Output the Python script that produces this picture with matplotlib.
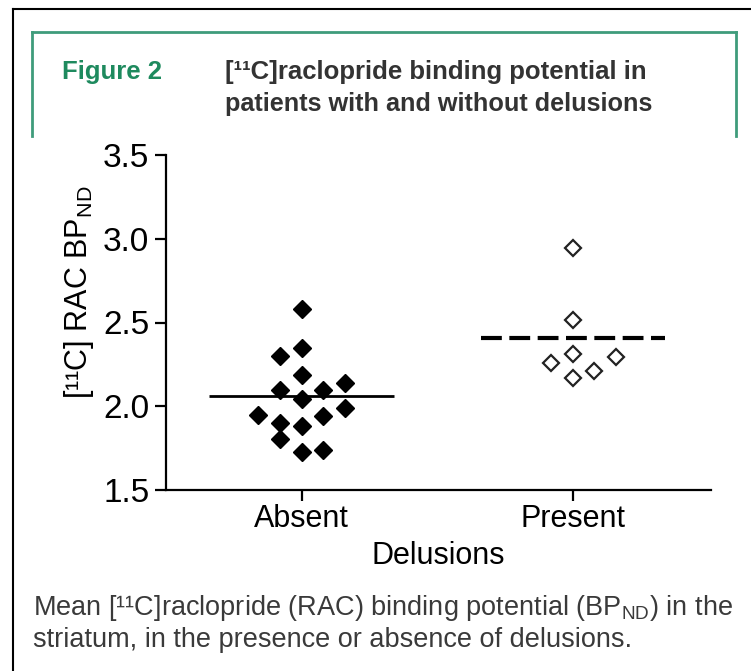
import matplotlib
matplotlib.use('Agg')
import matplotlib.pyplot as plt
from matplotlib.lines import Line2D

# ---------------- data ----------------
categories = ['Absent', 'Present']
absent_values = [2.578, 2.348, 2.299, 2.185, 2.136, 2.096, 2.096, 2.046,
                 1.992, 1.946, 1.940, 1.900, 1.882, 1.807, 1.727, 1.741]
absent_slots = [0, 0, -1, 0, 2, -1, 1, 0, 2, -2, 1, -1, 0, -1, 0, 1]
present_values = [2.946, 2.514, 2.311, 2.259, 2.295, 2.211, 2.171]
present_slots = [0, 0, 0, -1, 2, 1, 0]
absent_mean = 2.062
present_mean = 2.408
y_ticks = [1.5, 2.0, 2.5, 3.0, 3.5]
y_tick_labels = ['1.5', '2.0', '2.5', '3.0', '3.5']

# ---------------- style ----------------
plt.rcParams['mathtext.fontset'] = 'custom'
plt.rcParams['mathtext.rm'] = 'Liberation Sans'
plt.rcParams['mathtext.it'] = 'Liberation Sans:italic'
plt.rcParams['mathtext.bf'] = 'Liberation Sans:bold'

W, H = 751, 671
fig = plt.figure(figsize=(W / 100, H / 100), dpi=100)
fig.patch.set_facecolor('white')

def fx(px):
    return px / W

def fy(py):
    return 1 - py / H

AX_FONT = ['Liberation Sans', 'DejaVu Sans']
NARROW = ['Liberation Sans Narrow', 'Liberation Sans', 'DejaVu Sans']

ax = fig.add_axes([fx(166), fy(490), fx(711) - fx(166), fy(155) - fy(490)])

slot_w = 0.08
xa = [0 + s * slot_w for s in absent_slots]
xp = [1 + s * slot_w for s in present_slots]
ax.plot(xa, absent_values, ls='none', marker='D', ms=9.0,
        mfc='black', mec='black', mew=1.0, zorder=3)
ax.plot(xp, present_values, ls='none', marker='D', ms=8.6,
        mfc='white', mec='#222222', mew=1.6, zorder=3)

half = 0.34
ax.plot([0 - half, 0 + half], [absent_mean, absent_mean], color='black',
        lw=2.0, solid_capstyle='butt', zorder=2)
ax.plot([1 - half, 1 + half], [present_mean, present_mean], color='black',
        lw=3.0, ls=(0, (5.0, 1.8)), dash_capstyle='butt', zorder=2)

ax.set_xlim(-0.5, 1.51)
ax.set_ylim(1.5, 3.5)
ax.set_xticks([0, 1])
ax.set_xticklabels(categories, fontfamily=AX_FONT, fontsize=22)
ax.set_yticks(y_ticks)
ax.set_yticklabels(y_tick_labels, fontfamily=AX_FONT, fontsize=24)
for s in ['top', 'right']:
    ax.spines[s].set_visible(False)
for s in ['left', 'bottom']:
    ax.spines[s].set_linewidth(1.6)
ax.tick_params(axis='both', direction='out', length=8, width=1.6,
               colors='black')
ax.tick_params(axis='x', pad=2)
ax.tick_params(axis='y', pad=4)

ax.set_xlabel('Delusions', fontfamily=AX_FONT, fontsize=22, labelpad=5)
ax.set_ylabel('[¹¹C] RAC BP$_{\\mathrm{ND}}$', fontfamily=AX_FONT,
              fontsize=22)
ax.yaxis.set_label_coords(-0.128, 0.59)

# ---------------- frame & header ----------------
black_kw = dict(color='black', lw=1.5, transform=fig.transFigure)
fig.add_artist(Line2D([fx(13), fx(13)], [fy(9), fy(H)], **black_kw))
fig.add_artist(Line2D([fx(13), fx(W)], [fy(9), fy(9)], **black_kw))

green = '#3f9c7b'
gkw = dict(color=green, lw=2.0, transform=fig.transFigure)
fig.add_artist(Line2D([fx(32), fx(736)], [fy(32), fy(32)], **gkw))
fig.add_artist(Line2D([fx(32), fx(32)], [fy(32), fy(136)], **gkw))
fig.add_artist(Line2D([fx(736), fx(736)], [fy(32), fy(136)], **gkw))

fig.text(fx(62), fy(79), 'Figure 2', color='#1e8a5e', fontsize=18.5,
         fontweight='bold', family=NARROW, va='baseline', ha='left')
fig.text(fx(225), fy(79), '[¹¹C]raclopride binding potential in',
         color='#333333', fontsize=18.5, fontweight='bold', family=NARROW,
         va='baseline', ha='left')
fig.text(fx(225), fy(111), 'patients with and without delusions',
         color='#333333', fontsize=18.2, fontweight='bold', family=NARROW,
         va='baseline', ha='left')

# ---------------- caption ----------------
fig.text(fx(33), fy(615),
         'Mean [¹¹C]raclopride (RAC) binding potential (BP$_{\\mathrm{ND}}$) in the',
         color='#3a3a3a', fontsize=19.5, family=NARROW, va='baseline', ha='left')
fig.text(fx(33), fy(647),
         'striatum, in the presence or absence of delusions.',
         color='#3a3a3a', fontsize=19.5, family=NARROW, va='baseline', ha='left')

fig.savefig('out.png', dpi=100, facecolor='white')
